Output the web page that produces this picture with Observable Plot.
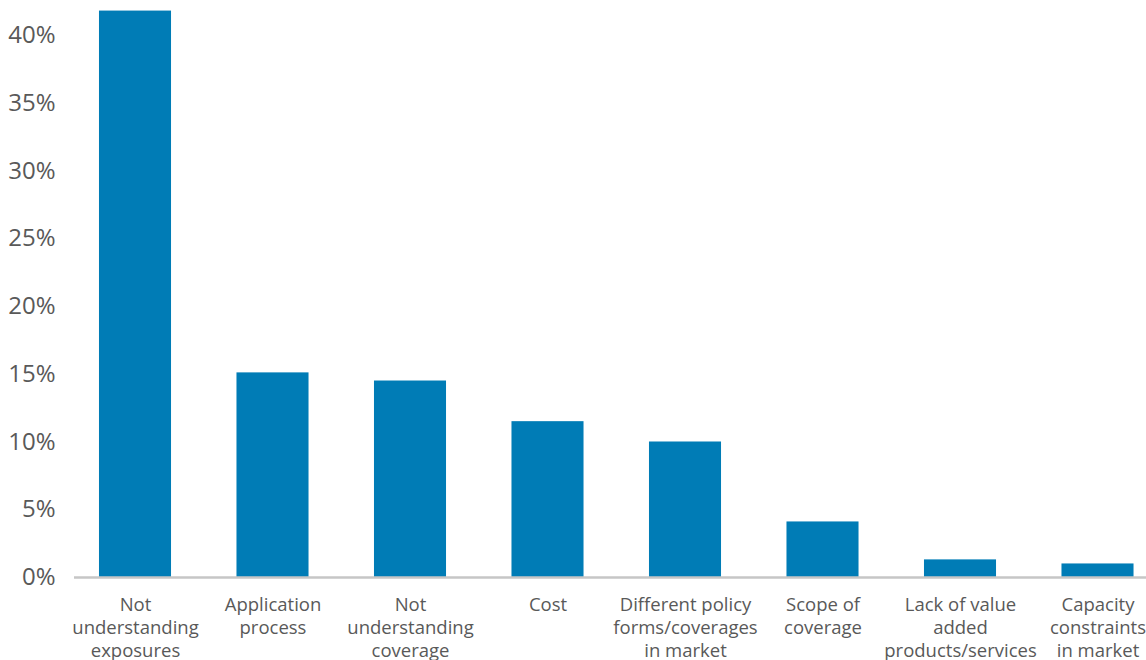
<!DOCTYPE html>
<html>
<head>
<meta charset="utf-8">
<script src="https://cdn.jsdelivr.net/npm/d3@7"></script>
<script src="https://cdn.jsdelivr.net/npm/@observablehq/plot@0.6"></script>
<style>
  html, body { margin: 0; padding: 0; background: #fff; }
  #chart { width: 1146px; height: 660px; }
</style>
</head>
<body>
<div id="chart"></div>
<script>
const categories = [
  "Not understanding exposures",
  "Application process",
  "Not understanding coverage",
  "Cost",
  "Different policy forms/coverages in market",
  "Scope of coverage",
  "Lack of value added products/services",
  "Capacity constraints in market"
];
const labels = [
  "Not\nunderstanding\nexposures",
  "Application\nprocess",
  "Not\nunderstanding\ncoverage",
  "Cost",
  "Different policy\nforms/coverages\nin market",
  "Scope of\ncoverage",
  "Lack of value\nadded\nproducts/services",
  "Capacity\nconstraints\nin market"
];
const values = [41.8, 15.1, 14.5, 11.5, 10.0, 4.1, 1.3, 1.0];
const yTicks = [0, 5, 10, 15, 20, 25, 30, 35, 40];

const data = categories.map((c, i) => ({cat: c, label: labels[i], value: values[i]}));

const chart = Plot.plot({
  width: 1146,
  height: 660,
  marginTop: 0,
  marginBottom: 83,
  marginLeft: 74,
  marginRight: 0,
  style: {fontFamily: "'Open Sans', 'Noto Sans', sans-serif", background: "#fff"},
  x: {domain: categories, range: [66.25, 1166.25], paddingInner: 0.476, paddingOuter: 0.238, round: false, axis: null},
  y: {domain: [0, 42.58], axis: null},
  marks: [
    Plot.barY(data, {x: "cat", y: "value", fill: "#007cb6"}),
    Plot.ruleY([0], {stroke: "#c6c6c6", strokeWidth: 2.5}),
    Plot.axisY(yTicks, {tickSize: 0, tickPadding: 19, fontSize: 24, fill: "#595959", label: null, tickFormat: d => d + "%"}),
    Plot.text(data, {x: "cat", y: () => 0, text: "label", dy: 17, lineAnchor: "top", fontSize: 18.5, lineHeight: 1.24, fill: "#595959"})
  ]
});
document.getElementById("chart").appendChild(chart);
</script>
</body>
</html>
